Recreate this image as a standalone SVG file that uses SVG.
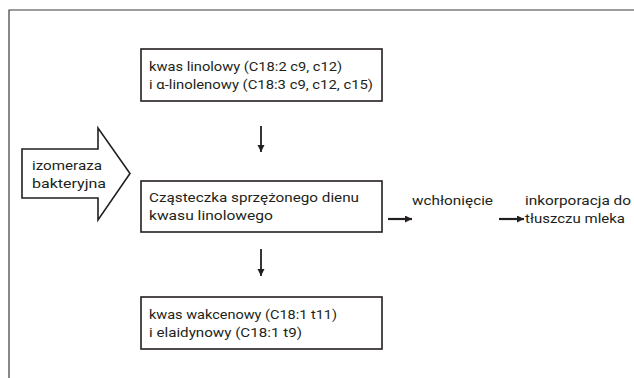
<svg xmlns="http://www.w3.org/2000/svg" width="634" height="378" viewBox="0 0 634 378">
  <defs>
    <marker id="ah" viewBox="0 0 10 10" refX="10" refY="5" markerWidth="7" markerHeight="8" markerUnits="userSpaceOnUse" orient="auto">
      <path d="M0,0 L10,5 L0,10 z" fill="#231f20"/>
    </marker>
    <marker id="ahw" viewBox="0 0 10 10" refX="10" refY="5" markerWidth="8" markerHeight="7" markerUnits="userSpaceOnUse" orient="auto">
      <path d="M0,0 L10,5 L0,10 z" fill="#231f20"/>
    </marker>
  </defs>
  <style>
    .box { fill: #ffffff; stroke: #231f20; stroke-width: 1.6; }
    .frame { fill: none; stroke: #3a3a3a; stroke-width: 1.2; }
    .t { font-family: "Roboto", "Liberation Sans", sans-serif; font-size: 12.8px; fill: #231f20; }
    .conn { stroke: #231f20; fill: none; }
  </style>
  <rect width="634" height="378" fill="#ffffff"/>
  <g id="frame">
    <path class="frame" d="M9,378 L9,10 L634,10"/>
  </g>
  <g id="node-linolowy">
    <rect class="box" x="141" y="49" width="241" height="52"/>
    <text class="t" x="149" y="71" textLength="193" lengthAdjust="spacingAndGlyphs">kwas linolowy (C18:2 c9, c12)</text>
    <text class="t" x="149" y="89" textLength="224" lengthAdjust="spacingAndGlyphs">i α-linolenowy (C18:3 c9, c12, c15)</text>
  </g>
  <g id="node-izomeraza">
    <path class="box" d="M22,149 L98,149 L98,128 L130,173.5 L98,220 L98,198 L22,198 Z"/>
    <text class="t" x="32" y="170" textLength="70" lengthAdjust="spacingAndGlyphs">izomeraza</text>
    <text class="t" x="32" y="188" textLength="74" lengthAdjust="spacingAndGlyphs">bakteryjna</text>
  </g>
  <g id="node-czasteczka">
    <rect class="box" x="141" y="181" width="241" height="51"/>
    <text class="t" x="149" y="202" textLength="210" lengthAdjust="spacingAndGlyphs">Cząsteczka sprzężonego dienu</text>
    <text class="t" x="149" y="220" textLength="124" lengthAdjust="spacingAndGlyphs">kwasu linolowego</text>
  </g>
  <g id="node-wakcenowy">
    <rect class="box" x="141" y="297" width="241" height="52"/>
    <text class="t" x="149" y="319" textLength="188" lengthAdjust="spacingAndGlyphs">kwas wakcenowy (C18:1 t11)</text>
    <text class="t" x="149" y="337" textLength="153" lengthAdjust="spacingAndGlyphs">i elaidynowy (C18:1 t9)</text>
  </g>
  <g id="node-wchloniecie">
    <text class="t" x="412" y="205" textLength="81" lengthAdjust="spacingAndGlyphs">wchłonięcie</text>
  </g>
  <g id="node-inkorporacja">
    <text class="t" x="525" y="205" textLength="106" lengthAdjust="spacingAndGlyphs">inkorporacja do</text>
    <text class="t" x="525" y="223" textLength="100" lengthAdjust="spacingAndGlyphs">tłuszczu mleka</text>
  </g>
  <g id="connectors">
    <line class="conn" stroke-width="1.8" x1="261" y1="126" x2="261" y2="152" marker-end="url(#ah)"/>
    <line class="conn" stroke-width="1.8" x1="261" y1="249" x2="261" y2="276" marker-end="url(#ah)"/>
    <line class="conn" stroke-width="2.2" x1="388" y1="219" x2="412" y2="219" marker-end="url(#ahw)"/>
    <line class="conn" stroke-width="2.2" x1="499" y1="219" x2="524" y2="219" marker-end="url(#ahw)"/>
  </g>
</svg>
